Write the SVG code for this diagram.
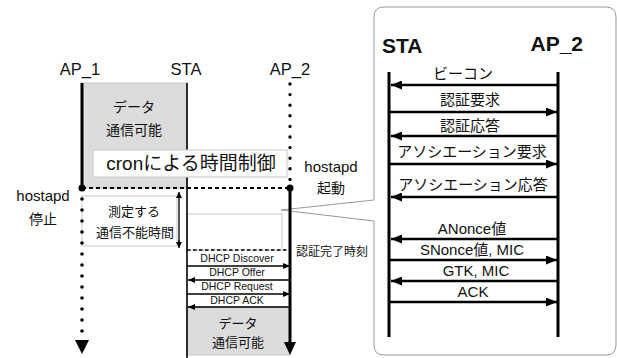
<svg xmlns="http://www.w3.org/2000/svg" width="617" height="358" viewBox="0 0 617 358">
<style>
text{font-family:"Liberation Sans","Noto Sans CJK JP",sans-serif;fill:#111;text-anchor:middle}
.jp{font-family:"Noto Sans CJK JP",sans-serif}
.life{stroke:#000;fill:none}
.msg{stroke:#000;stroke-width:2.5;fill:none}
.dmsg{stroke:#000;stroke-width:1.3;fill:none}
.box{stroke:#c8c8c8;stroke-width:1}
</style>
<defs>
<marker id="ah" markerUnits="userSpaceOnUse" markerWidth="11" markerHeight="9" refX="11" refY="4.5" orient="auto"><path d="M0,0 L11,4.5 L0,9 Z" fill="#000"/></marker>
<marker id="sh" markerUnits="userSpaceOnUse" markerWidth="7" markerHeight="6" refX="7" refY="3" orient="auto"><path d="M0,0 L7,3 L0,6 Z" fill="#000"/></marker>
<marker id="vh" markerUnits="userSpaceOnUse" markerWidth="6" markerHeight="7" refX="6" refY="3" orient="auto"><path d="M0,0 L6,3 L0,6 Z" fill="#000"/></marker>
</defs>

<g id="callout">
<path d="M384,7 H606 Q616,7 616,17 V345 Q616,355 606,355 H384 Q374,355 374,345 V221 L281,210 L374,200 V17 Q374,7 384,7 Z" fill="#fff" stroke="#999" stroke-width="1"/>
</g>

<g id="left-boxes">
<rect id="data1" x="82" y="83" width="105" height="105" fill="#dcdcdc" class="box"/>
<rect id="measure" x="82" y="196" width="95" height="50" fill="#fff" class="box"/>
<rect id="gap" x="187" y="214" width="95" height="36" fill="#fff" class="box"/>
<rect id="data2" x="187" y="307" width="103" height="48" fill="#dcdcdc" class="box"/>
</g>

<g id="connectors">
<line x1="82" y1="83" x2="82" y2="188" class="life" stroke-width="3"/>
<line x1="82" y1="199" x2="82" y2="335" class="life" stroke-width="3.6" stroke-linecap="round" stroke-dasharray="0 11"/>
<path d="M75,340 L89,340 L82,354 Z" fill="#000"/>
<line x1="187" y1="83" x2="187" y2="358" class="life" stroke-width="1.6"/>
<line x1="290" y1="84" x2="290" y2="180" class="life" stroke-width="3.4" stroke-linecap="round" stroke-dasharray="0 10.6"/>
<line x1="290" y1="188" x2="290" y2="344" class="life" stroke-width="3"/>
<path d="M284,342 L296,342 L290,355 Z" fill="#000"/>
<line x1="82" y1="188" x2="290" y2="188" stroke="#000" stroke-width="2" stroke-dasharray="4 3"/>
<circle cx="82" cy="188" r="3.5" fill="#000"/>
<circle cx="290" cy="188" r="3.5" fill="#000"/>
<line x1="187" y1="250" x2="290" y2="250" stroke="#000" stroke-width="1.6" stroke-dasharray="3.5 2.5"/>
<line x1="179" y1="198" x2="179" y2="192" class="dmsg" marker-end="url(#vh)"/>
<line x1="179" y1="240" x2="179" y2="248" class="dmsg" marker-end="url(#vh)"/>
<line x1="179" y1="194" x2="179" y2="246" class="dmsg"/>
<line x1="187" y1="266" x2="290" y2="266" class="dmsg" marker-end="url(#sh)"/>
<line x1="289" y1="280" x2="188" y2="280" class="dmsg" marker-end="url(#sh)"/>
<line x1="187" y1="294" x2="290" y2="294" class="dmsg" marker-end="url(#sh)"/>
<line x1="289" y1="307" x2="188" y2="307" class="dmsg" marker-end="url(#sh)"/>

<line x1="389" y1="72" x2="389" y2="337" class="life" stroke-width="3"/>
<line x1="558" y1="72" x2="558" y2="337" class="life" stroke-width="3"/>
<line x1="557" y1="85" x2="391" y2="85" class="msg" marker-end="url(#ah)"/>
<line x1="390" y1="112" x2="557" y2="112" class="msg" marker-end="url(#ah)"/>
<line x1="557" y1="136" x2="391" y2="136" class="msg" marker-end="url(#ah)"/>
<line x1="390" y1="164" x2="557" y2="164" class="msg" marker-end="url(#ah)"/>
<line x1="557" y1="197" x2="391" y2="197" class="msg" marker-end="url(#ah)"/>
<line x1="557" y1="239" x2="391" y2="239" class="msg" marker-end="url(#ah)"/>
<line x1="390" y1="260" x2="557" y2="260" class="msg" marker-end="url(#ah)"/>
<line x1="557" y1="281" x2="391" y2="281" class="msg" marker-end="url(#ah)"/>
<line x1="390" y1="302" x2="557" y2="302" class="msg" marker-end="url(#ah)"/>
</g>

<g id="cron">
<rect x="93" y="150" width="194" height="27" fill="#fff" class="box"/>
<text x="191" y="170" font-size="19">cronによる時間制御</text>
</g>

<g id="labels-left">
<text x="80" y="75" font-size="16.5">AP_1</text>
<text x="186" y="75" font-size="16.5">STA</text>
<text x="290" y="75" font-size="16.5">AP_2</text>
<text x="134" y="112" font-size="14" class="jp">データ</text>
<text x="134" y="135" font-size="14" class="jp">通信可能</text>
<text x="43" y="201" font-size="15">hostapd</text>
<text x="43" y="224" font-size="14" class="jp">停止</text>
<text x="331" y="172" font-size="15">hostapd</text>
<text x="331" y="193" font-size="14" class="jp">起動</text>
<text x="134" y="216" font-size="13" class="jp">測定する</text>
<text x="135" y="237" font-size="13" class="jp">通信不能時間</text>
<text x="332" y="256" font-size="12" class="jp">認証完了時刻</text>
<text x="237" y="262" font-size="10.5">DHCP Discover</text>
<text x="237" y="276" font-size="10.5">DHCP Offer</text>
<text x="237" y="290" font-size="10.5">DHCP Request</text>
<text x="237" y="304" font-size="10.5">DHCP ACK</text>
<text x="238" y="328" font-size="13" class="jp">データ</text>
<text x="238" y="347" font-size="13" class="jp">通信可能</text>
</g>

<g id="labels-right">
<text x="382" y="53" font-size="21" font-weight="bold" style="text-anchor:start">STA</text>
<text x="583" y="51" font-size="21" font-weight="bold" style="text-anchor:end">AP_2</text>
<text x="463" y="79" font-size="15">ビーコン</text>
<text x="470" y="105" font-size="15">認証要求</text>
<text x="470" y="131" font-size="15">認証応答</text>
<text x="472" y="157" font-size="15">アソシエーション要求</text>
<text x="473" y="190" font-size="15">アソシエーション応答</text>
<text x="472" y="234" font-size="15">ANonce値</text>
<text x="472" y="255" font-size="15">SNonce値, MIC</text>
<text x="476" y="276" font-size="15">GTK, MIC</text>
<text x="473" y="297" font-size="15">ACK</text>
</g>
</svg>
